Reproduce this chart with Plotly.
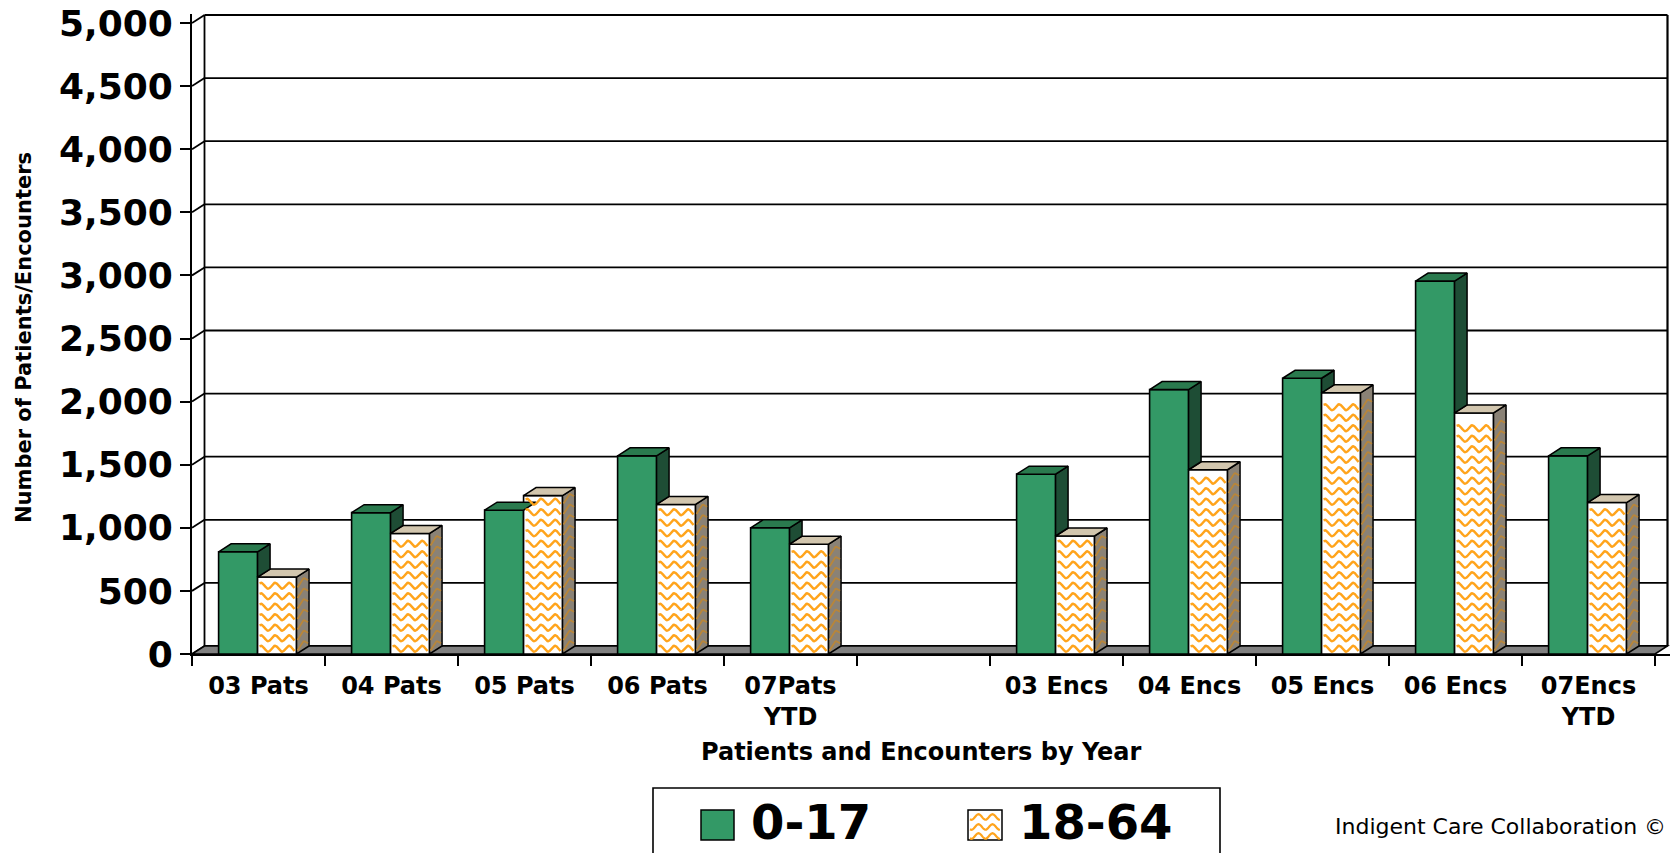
import numpy as np
import plotly.graph_objects as go

# ---- data ---------------------------------------------------------------
categories = ["03 Pats", "04 Pats", "05 Pats", "06 Pats", "07Pats<br>YTD", "",
              "03 Encs", "04 Encs", "05 Encs", "06 Encs", "07Encs<br>YTD"]
age_0_17 = [810, 1120, 1140, 1570, 1000, None, 1425, 2095, 2185, 2955, 1570]
age_18_64 = [610, 955, 1255, 1185, 870, None, 935, 1460, 2070, 1910, 1200]
series_names = ["0-17", "18-64"]
y_ticks = list(range(0, 5001, 500))

# ---- geometry of the 3-D look (pixels -> axis units) -----------------------
W, H = 1675, 853
PX_L, PX_R, PX_T, PX_B = 192, 1670, 14, 654
CAT_PX = 133.0                      # width of one category slot
Y_PX_PER_UNIT = 631.0 / 5000.0      # vertical scale of the value axis
DEPTH_PX = (12.5, 8.0)              # oblique depth offset

n_cat = len(categories)
x_min = -0.5
x_max = x_min + (PX_R - PX_L) / CAT_PX
y_max = (PX_B - PX_T) / Y_PX_PER_UNIT
ddx = DEPTH_PX[0] / CAT_PX
ddy = DEPTH_PX[1] / Y_PX_PER_UNIT
x_back_r = x_min + n_cat + ddx

BAR_W = 0.293
OFF_G = -0.300
OFF_O = -0.007

GREEN = "#339966"
GREEN_TOP = "#2A7A4E"
GREEN_SIDE = "#1E4D35"
ORANGE = "#FFA41C"
GRAY = "#808080"
BLACK = "#000000"

# wave pattern on the 18-64 bars
WAVE_ROW = 10.5 / Y_PX_PER_UNIT
WAVE_AMP = 3.0 / Y_PX_PER_UNIT
WAVE_PER = 14.0 / CAT_PX
EDGE = 2.0 / CAT_PX


def px_x(p):
    return (p - PX_L) / (PX_R - PX_L)


def px_y(p):
    return (PX_B - p) / (PX_B - PX_T)


centers = list(range(n_cat))


def poly(pts):
    xs = [p[0] for p in pts] + [pts[0][0], None]
    ys = [p[1] for p in pts] + [pts[0][1], None]
    return xs, ys


g_top_x, g_top_y, g_side_x, g_side_y = [], [], [], []
o_top_x, o_top_y, o_side_x, o_side_y = [], [], [], []
wave_x, wave_y, swave_x, swave_y = [], [], [], []

for c, vg, vo in zip(centers, age_0_17, age_18_64):
    if vg is None:
        continue
    gl = c + OFF_G
    gr = gl + BAR_W
    ol = c + OFF_O
    orr = ol + BAR_W
    # top of the 0-17 bar
    xs, ys = poly([(gl, vg), (gr, vg), (gr + ddx, vg + ddy), (gl + ddx, vg + ddy)])
    g_top_x += xs; g_top_y += ys
    # right side of the 0-17 bar, visible only above the neighbouring bar
    if vg > vo:
        xs, ys = poly([(gr, vo), (gr, vg), (gr + ddx, vg + ddy), (gr + ddx, vo + ddy)])
        g_side_x += xs; g_side_y += ys
    # top and side of the 18-64 bar
    xs, ys = poly([(ol, vo), (orr, vo), (orr + ddx, vo + ddy), (ol + ddx, vo + ddy)])
    o_top_x += xs; o_top_y += ys
    xs, ys = poly([(orr, 0), (orr, vo), (orr + ddx, vo + ddy), (orr + ddx, ddy)])
    o_side_x += xs; o_side_y += ys

    # wave texture, front face
    t = np.linspace(ol + EDGE, orr - EDGE, 60)
    k = 0
    while True:
        base = WAVE_ROW * (k + 0.5)
        if base + WAVE_AMP + 2.0 / Y_PX_PER_UNIT > vo:
            break
        yy = base + WAVE_AMP * np.sin(2 * np.pi * (t - ol) / WAVE_PER)
        wave_x += list(t) + [None]
        wave_y += list(yy) + [None]
        # same row carried round onto the side face
        s = np.linspace(0.08, 0.92, 12)
        sx = orr + s * ddx
        sy = base + s * ddy + WAVE_AMP * np.sin(2 * np.pi * (sx - ol) / WAVE_PER)
        swave_x += list(sx) + [None]
        swave_y += list(sy) + [None]
        k += 1

fig = go.Figure()

fig.add_trace(go.Bar(x=centers, y=age_0_17, name=series_names[0], offset=OFF_G, width=BAR_W,
                     marker=dict(color=GREEN, line=dict(color=BLACK, width=1.6)),
                     hoverinfo="skip", showlegend=False))
fig.add_trace(go.Bar(x=centers, y=age_18_64, name=series_names[1], offset=OFF_O, width=BAR_W,
                     marker=dict(color="white", line=dict(color=BLACK, width=1.6)),
                     hoverinfo="skip", showlegend=False))


def face(xs, ys, fill):
    return go.Scatter(x=xs, y=ys, mode="lines", fill="toself", fillcolor=fill,
                      line=dict(color=BLACK, width=1.5), hoverinfo="skip", showlegend=False)


fig.add_trace(face(o_side_x, o_side_y, "#8A8276"))
fig.add_trace(go.Scatter(x=swave_x, y=swave_y, mode="lines",
                         line=dict(color="#B8863A", width=1.8), hoverinfo="skip", showlegend=False))
fig.add_trace(face(o_top_x, o_top_y, "#D2C6AE"))
fig.add_trace(face(g_side_x, g_side_y, GREEN_SIDE))
fig.add_trace(face(g_top_x, g_top_y, GREEN_TOP))
fig.add_trace(go.Scatter(x=wave_x, y=wave_y, mode="lines",
                         line=dict(color=ORANGE, width=2.4), hoverinfo="skip", showlegend=False))

# ---- back wall, side wall and floor ---------------------------------------
shapes = []
line_k = dict(color=BLACK, width=1.8)
for v in y_ticks:
    shapes.append(dict(type="line", xref="x", yref="y", x0=x_min + ddx, x1=x_back_r,
                       y0=v + ddy, y1=v + ddy, line=line_k, layer="below"))
    shapes.append(dict(type="line", xref="x", yref="y", x0=x_min, x1=x_min + ddx,
                       y0=v, y1=v + ddy, line=line_k, layer="below"))
shapes.append(dict(type="line", xref="x", yref="y", x0=x_min + ddx, x1=x_min + ddx,
                   y0=ddy, y1=y_ticks[-1] + ddy, line=line_k, layer="below"))
shapes.append(dict(type="line", xref="x", yref="y", x0=x_back_r, x1=x_back_r,
                   y0=ddy, y1=y_ticks[-1] + ddy, line=dict(color=BLACK, width=2.2), layer="below"))
shapes.append(dict(type="path", xref="x", yref="y",
                   path=f"M{x_min},0 L{x_min + n_cat},0 L{x_back_r},{ddy} L{x_min + ddx},{ddy} Z",
                   fillcolor=GRAY, line=dict(color=BLACK, width=1.6), layer="below"))

# ---- legend box, drawn in page units ---------------------------------------
shapes.append(dict(type="rect", xref="paper", yref="paper",
                   x0=px_x(653), x1=px_x(1220), y0=px_y(880), y1=px_y(788),
                   line=dict(color=BLACK, width=1.6), fillcolor="white"))
shapes.append(dict(type="rect", xref="paper", yref="paper",
                   x0=px_x(701), x1=px_x(734), y0=px_y(840), y1=px_y(810),
                   line=dict(color=BLACK, width=1.5), fillcolor=GREEN))
shapes.append(dict(type="rect", xref="paper", yref="paper",
                   x0=px_x(968), x1=px_x(1002), y0=px_y(840), y1=px_y(810),
                   line=dict(color=BLACK, width=1.5), fillcolor="white"))
for row in (817, 827, 836):
    pts = []
    for px in np.linspace(970, 1000, 25):
        py = row + 2.8 * np.sin(2 * np.pi * (px - 968) / 14.0)
        pts.append(f"{px_x(px):.5f},{px_y(py):.5f}")
    shapes.append(dict(type="path", xref="paper", yref="paper",
                       path="M" + " L".join(pts), line=dict(color=ORANGE, width=2.2)))

bold = dict(family="DejaVu Sans", color=BLACK, weight="bold")
annotations = [
    dict(text="Number of Patients/Encounters", xref="paper", yref="paper",
         x=px_x(24), y=px_y(338), textangle=-90, showarrow=False,
         xanchor="center", yanchor="middle", font=dict(bold, size=21)),
    dict(text="Patients and Encounters by Year", xref="paper", yref="paper",
         x=px_x(921), y=px_y(752), showarrow=False,
         xanchor="center", yanchor="middle", font=dict(bold, size=24)),
    dict(text=series_names[0], xref="paper", yref="paper", x=px_x(749), y=px_y(822),
         showarrow=False, xanchor="left", yanchor="middle", font=dict(bold, size=48)),
    dict(text=series_names[1], xref="paper", yref="paper", x=px_x(1017), y=px_y(822),
         showarrow=False, xanchor="left", yanchor="middle", font=dict(bold, size=48)),
    dict(text="Indigent Care Collaboration ©", xref="paper", yref="paper",
         x=px_x(1333), y=px_y(826), showarrow=False, xanchor="left", yanchor="middle",
         font=dict(family="DejaVu Sans", color=BLACK, size=22)),
]

fig.update_layout(
    width=W, height=H,
    margin=dict(l=PX_L, r=W - PX_R, t=PX_T, b=H - PX_B, autoexpand=False),
    paper_bgcolor="white", plot_bgcolor="white",
    barmode="overlay", showlegend=False,
    shapes=shapes, annotations=annotations,
    xaxis=dict(range=[x_min, x_max], tickmode="array", tickvals=centers, ticktext=categories,
               ticks="", showgrid=False, zeroline=False, showline=True,
               linecolor=BLACK, linewidth=2, fixedrange=True, ticklabelstandoff=9,
               tickfont=dict(bold, size=24),
               minor=dict(tickmode="array", tickvals=[x_min + i for i in range(n_cat + 1)],
                          ticks="outside", ticklen=10, tickwidth=2, tickcolor=BLACK,
                          showgrid=False)),
    yaxis=dict(range=[0, y_max], tickmode="array", tickvals=y_ticks,
               ticktext=[f"{v:,}" for v in y_ticks],
               ticks="outside", ticklen=10, tickwidth=2, tickcolor=BLACK,
               showgrid=False, zeroline=False, showline=True, linecolor=BLACK, linewidth=2,
               fixedrange=True, tickfont=dict(bold, size=36)),
)

fig.write_html("out.html")
